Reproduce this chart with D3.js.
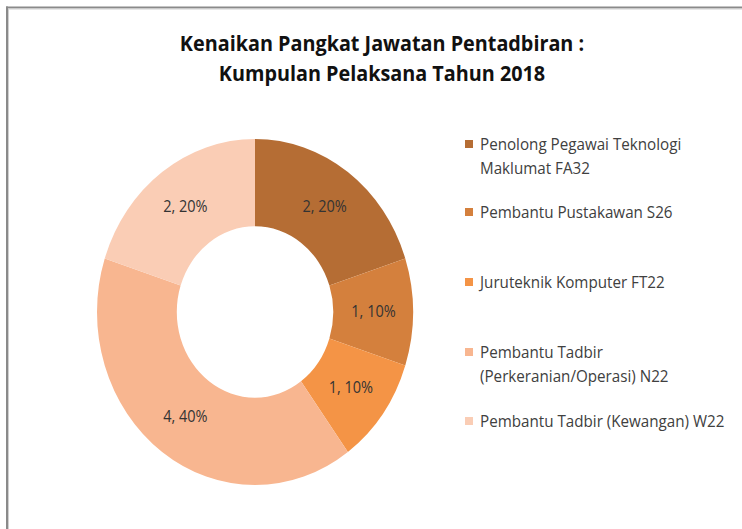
<!DOCTYPE html>
<html><head><meta charset="utf-8">
<script src="https://cdn.jsdelivr.net/npm/d3@7"></script>
<style>html,body{margin:0;padding:0;background:#fff;}svg{display:block;}</style>
</head><body>
<svg id="chart" width="742" height="529"></svg>
<script>
const categories = [
  ["Penolong Pegawai Teknologi", "Maklumat FA32"],
  ["Pembantu Pustakawan S26"],
  ["Juruteknik Komputer FT22"],
  ["Pembantu Tadbir", "(Perkeranian/Operasi) N22"],
  ["Pembantu Tadbir (Kewangan) W22"]
];
const values = [2, 1, 1, 4, 2];
const colors = ["#B56D34", "#D4803D", "#F49446", "#F8B690", "#FACDB5"];
const titleLines = ["Kenaikan Pangkat Jawatan Pentadbiran :", "Kumpulan Pelaksana Tahun 2018"];
const legendY = [145, 213, 283, 353, 422];

const svg = d3.select("#chart");
const font = "'Open Sans', 'Liberation Sans', sans-serif";

// frame
svg.append("line").attr("x1",6).attr("y1",7.5).attr("x2",742).attr("y2",7.5).attr("stroke","#8a8a8a").attr("stroke-width",2);
svg.append("line").attr("x1",7).attr("y1",6.5).attr("x2",7).attr("y2",529).attr("stroke","#8a8a8a").attr("stroke-width",2);
svg.append("line").attr("x1",8).attr("y1",9).attr("x2",742).attr("y2",9).attr("stroke","#d0d0d0").attr("stroke-width",1);
svg.append("line").attr("x1",8.5).attr("y1",9).attr("x2",8.5).attr("y2",529).attr("stroke","#d0d0d0").attr("stroke-width",1);

// title
const sy = 1.095;
titleLines.forEach((t,i)=>{
  svg.append("text")
    .attr("transform", `translate(382,${51 + i*30}) scale(1,${sy})`)
    .attr("text-anchor","middle")
    .attr("font-family", font).attr("font-weight","bold").attr("font-size", 19.8)
    .attr("fill","#111").text(t);
});

// donut
const cx = 255, cy = 312, R = 158;
const total = d3.sum(values);
const pie = d3.pie().sort(null).value(d=>d)(values);
const arc = d3.arc().innerRadius(R*0.495).outerRadius(R);
const g = svg.append("g").attr("transform", `translate(${cx},${cy}) scale(1,${sy})`);
g.selectAll("path").data(pie).join("path")
  .attr("d", arc).attr("fill",(d,i)=>colors[i]);

const labelArc = d3.arc().innerRadius(R*0.75).outerRadius(R*0.75);
const fmt = d3.format(".0%");
pie.forEach((d,i)=>{
  const [x,y] = labelArc.centroid(d);
  svg.append("text")
    .attr("transform", `translate(${cx+x},${cy+y*sy+5}) scale(1,${sy})`)
    .attr("text-anchor","middle")
    .attr("font-family", font).attr("font-size", 14.5)
    .attr("fill","#333").text(`${d.data}, ${fmt(d.data/total)}`);
});

// legend
categories.forEach((lines,i)=>{
  const y0 = legendY[i];
  svg.append("rect").attr("x",465).attr("y",y0-5).attr("width",8).attr("height",8).attr("fill",colors[i]);
  lines.forEach((l,j)=>{
    svg.append("text")
      .attr("transform", `translate(480,${y0 + 5 + j*24}) scale(1,${sy})`)
      .attr("font-family", font).attr("font-size", 15.2)
      .attr("fill","#404040").text(l);
  });
});
</script>
</body></html>
